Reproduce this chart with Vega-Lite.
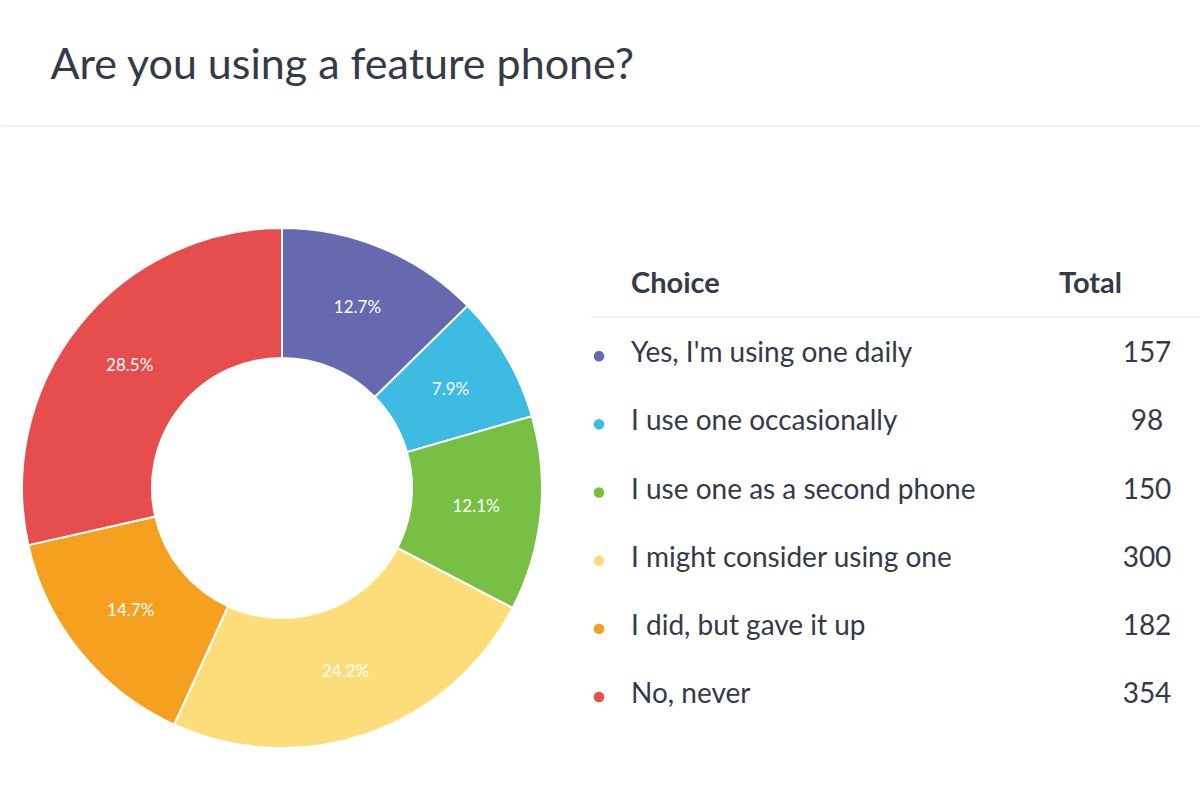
{
  "$schema": "https://vega.github.io/schema/vega-lite/v6.json",
  "padding": {"left": 0, "top": 44, "right": 0, "bottom": 0},
  "background": "white",
  "title": {
    "text": "Are you using a feature phone?",
    "anchor": "start",
    "dx": 50,
    "font": "Lato",
    "fontSize": 43,
    "fontWeight": "normal",
    "color": "#343a47",
    "baseline": "alphabetic",
    "offset": 4
  },
  "datasets": {
    "votes": [
      {"choice": "Yes, I'm using one daily", "votes": 157, "pct": "12.7%", "rank": 1},
      {"choice": "I use one occasionally", "votes": 98, "pct": "7.9%", "rank": 2},
      {"choice": "I use one as a second phone", "votes": 150, "pct": "12.1%", "rank": 3},
      {"choice": "I might consider using one", "votes": 300, "pct": "24.2%", "rank": 4},
      {"choice": "I did, but gave it up", "votes": 182, "pct": "14.7%", "rank": 5},
      {"choice": "No, never", "votes": 354, "pct": "28.5%", "rank": 6}
    ]
  },
  "spacing": 97,
  "vconcat": [
    {
      "width": 1200,
      "height": 1,
      "data": {"values": [{}]},
      "mark": {"type": "rule", "color": "#e2e2e2", "strokeWidth": 1},
      "encoding": {"y": {"value": 0}}
    },
    {
      "spacing": 0,
      "hconcat": [
        {
          "width": 562,
          "height": 520,
          "data": {"name": "votes"},
          "encoding": {
            "theta": {"field": "votes", "type": "quantitative", "stack": true},
            "order": {"field": "rank", "type": "quantitative"},
            "color": {
              "field": "choice",
              "type": "nominal",
              "scale": {
                "domain": ["Yes, I'm using one daily", "I use one occasionally", "I use one as a second phone", "I might consider using one", "I did, but gave it up", "No, never"],
                "range": ["#6569b0", "#3dbbe3", "#77c043", "#fddd7a", "#f5a01f", "#e54e4d"]
              },
              "legend": null
            }
          },
          "layer": [
            {"mark": {"type": "arc", "outerRadius": 260, "innerRadius": 130, "stroke": "white", "strokeWidth": 2}},
            {
              "mark": {"type": "text", "radius": 195, "font": "Lato", "fontSize": 17, "fill": "white", "baseline": "middle"},
              "encoding": {"text": {"field": "pct"}}
            }
          ]
        },
        {
          "width": 638,
          "height": 520,
          "encoding": {
            "y": {
              "field": "choice",
              "type": "nominal",
              "axis": null,
              "scale": {
                "type": "point",
                "padding": 0,
                "domain": ["Choice", "Yes, I'm using one daily", "I use one occasionally", "I use one as a second phone", "I might consider using one", "I did, but gave it up", "No, never"],
                "range": [56, 465]
              }
            }
          },
          "layer": [
            {
              "data": {"values": [{}]},
              "mark": {"type": "rule", "color": "#e2e2e2", "strokeWidth": 1},
              "encoding": {"x": {"value": 28}, "x2": {"value": 638}, "y": {"value": 89}}
            },
            {
              "data": {"values": [{"choice": "Choice", "total": "Total"}]},
              "mark": {"type": "text", "font": "Lato", "fontSize": 29, "fontWeight": "bold", "color": "#343a47", "align": "left", "baseline": "middle"},
              "encoding": {
                "x": {"value": 68},
                "text": {"field": "choice"}
              }
            },
            {
              "data": {"values": [{"choice": "Choice", "total": "Total"}]},
              "mark": {"type": "text", "font": "Lato", "fontSize": 29, "fontWeight": "bold", "color": "#343a47", "align": "right", "baseline": "middle"},
              "encoding": {
                "x": {"value": 559},
                "text": {"field": "total"}
              }
            },
            {
              "data": {"name": "votes"},
              "mark": {"type": "circle", "size": 113, "opacity": 1},
              "encoding": {
                "x": {"value": 36},
                "yOffset": {"value": 4},
                "color": {
                  "field": "choice",
                  "type": "nominal",
                  "scale": {
                    "domain": ["Yes, I'm using one daily", "I use one occasionally", "I use one as a second phone", "I might consider using one", "I did, but gave it up", "No, never"],
                    "range": ["#6569b0", "#3dbbe3", "#77c043", "#fddd7a", "#f5a01f", "#e54e4d"]
                  },
                  "legend": null
                }
              }
            },
            {
              "data": {"name": "votes"},
              "mark": {"type": "text", "font": "Lato", "fontSize": 28, "color": "#343a47", "align": "left", "baseline": "middle", "dy": 2},
              "encoding": {
                "x": {"value": 68},
                "text": {"field": "choice"}
              }
            },
            {
              "data": {"name": "votes"},
              "mark": {"type": "text", "font": "Lato", "fontSize": 28, "color": "#343a47", "align": "center", "baseline": "middle", "dy": 2},
              "encoding": {
                "x": {"value": 584},
                "text": {"field": "votes", "type": "quantitative"}
              }
            }
          ]
        }
      ]
    }
  ],
  "config": {"view": {"stroke": null}}
}
